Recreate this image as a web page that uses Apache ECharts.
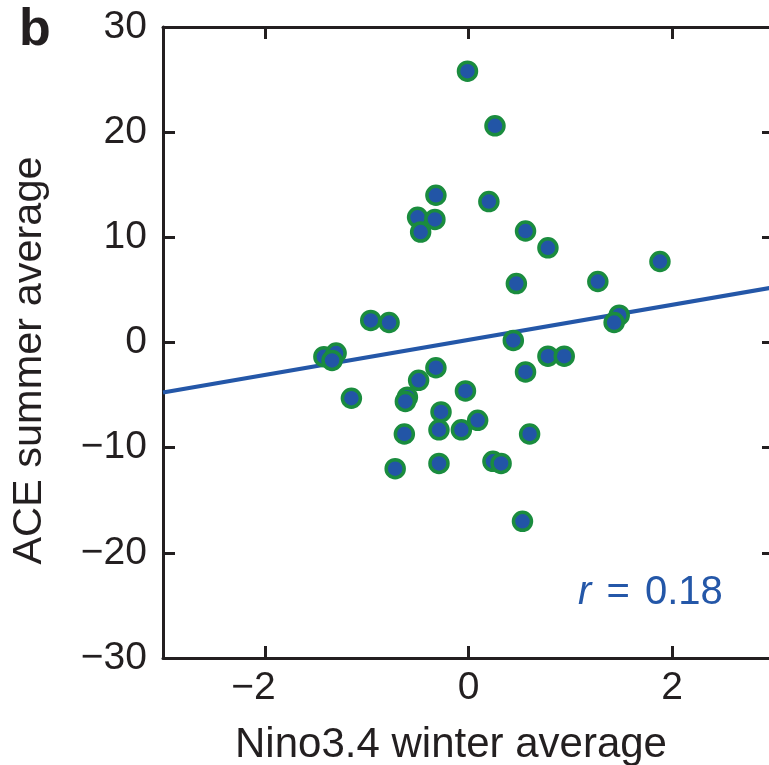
<!DOCTYPE html>
<html><head><meta charset="utf-8">
<script src="https://cdn.jsdelivr.net/npm/echarts@6/dist/echarts.min.js"></script>
<style>html,body{margin:0;padding:0;background:#fff}#c{width:769px;height:765px}</style>
</head><body><div id="c"></div>
<script>
// Nino3.4 winter average (x) and ACE summer average (y)
const ninoWinter = [-0.01, 0.26, -0.32, 0.20, -0.50, -0.33, -0.47, 0.56, 0.78, 1.88,
  1.27, 0.47, -0.96, -0.78, 1.48, 1.43, 0.44, -1.42, -1.30, -1.34,
  0.78, 0.94, -0.32, 0.56, -0.49, -1.15, -0.60, -0.62, -0.03, -0.27,
  0.09, -0.07, -0.29, -0.63, 0.60, 0.24, 0.32, -0.29, -0.72, 0.53];
const aceSummer = [25.8, 20.6, 14.0, 13.4, 11.9, 11.7, 10.5, 10.6, 9.0, 7.7,
  5.8, 5.6, 2.1, 1.9, 2.6, 1.9, 0.2, -1.35, -1.0, -1.7,
  -1.3, -1.3, -2.4, -2.8, -3.6, -5.3, -5.2, -5.6, -4.6, -6.6,
  -7.4, -8.3, -8.3, -8.7, -8.7, -11.3, -11.5, -11.5, -12.0, -17.0];
// regression line end points
const fitX = [-3, 3];
const fitY = [-4.75, 5.25];
// ticks
const xTicks = [-2, 0, 2];
const yTicks = [-30, -20, -10, 0, 10, 20, 30];
const xName = 'Nino3.4 winter average';
const yName = 'ACE summer average';
const panelLabel = 'b';
const rText = '0.18';

const ink = '#231f20';
const blue = '#2457a8';
const font = '"Liberation Sans", Arial, Helvetica, sans-serif';
const minus = v => String(v).replace('-', '\u2212');
// x labels: keep the digit centred on the tick, the minus hangs to the left
const xFmt = v => v < 0 ? minus(v) + '{h|\u2212}' : String(v);

const chart = echarts.init(document.getElementById('c'), null, {renderer: 'canvas'});
const axisLine = {show: true, onZero: false, lineStyle: {color: ink, width: 3}};
const tick = (vals) => ({show: true, inside: true, length: 12, lineStyle: {color: ink, width: 3}, customValues: vals});
const lab = {color: ink, fontSize: 39, fontFamily: font};

chart.setOption({
  animation: false,
  backgroundColor: '#fff',
  grid: {left: 163, top: 27, width: 611, height: 631, containLabel: false, outerBoundsMode: 'none'},
  xAxis: [{
    type: 'value', min: -3, max: 3, position: 'bottom',
    axisLine, axisTick: tick(xTicks), splitLine: {show: false},
    axisLabel: Object.assign({margin: 11, formatter: xFmt, customValues: xTicks,
      rich: {h: {color: 'rgba(0,0,0,0)', fontSize: 39, fontFamily: font}}}, lab),
    name: xName, nameLocation: 'middle', nameGap: 66,
    nameTextStyle: {color: ink, fontSize: 42, fontFamily: font, padding: [0, 35, 0, 0]}
  }, {
    type: 'value', min: -3, max: 3, position: 'top',
    axisLine, axisTick: tick(xTicks), splitLine: {show: false}, axisLabel: {show: false}
  }],
  yAxis: [{
    type: 'value', min: -30, max: 30, interval: 10, position: 'left',
    axisLine, axisTick: tick(yTicks), splitLine: {show: false},
    axisLabel: Object.assign({margin: 16, formatter: minus, customValues: yTicks}, lab),
    name: yName, nameLocation: 'middle', nameGap: 112,
    nameTextStyle: {color: ink, fontSize: 41.5, fontFamily: font, padding: [0, 36, 0, 0]}
  }, {
    type: 'value', min: -30, max: 30, interval: 10, position: 'right',
    axisLine, axisTick: tick(yTicks), splitLine: {show: false}, axisLabel: {show: false}
  }],
  graphic: [{
    type: 'text', left: 19, top: 5,
    style: {text: panelLabel, fill: ink, font: 'bold 52px ' + font}
  }, {
    type: 'text', x: 578, y: 593,
    style: {
      text: '{i|r} {e|=} ' + rText, fill: blue, fontSize: 40, fontFamily: font, verticalAlign: 'middle',
      rich: {
        i: {fontStyle: 'italic', fontSize: 40, fontFamily: font, fill: blue},
        e: {fontSize: 40, fontFamily: font, fill: blue, padding: [0, 4, 0, 4]}
      }
    }
  }],
  series: [{
    type: 'line', xAxisIndex: 0, yAxisIndex: 0, z: 2,
    data: fitX.map((x, i) => [x, fitY[i]]),
    symbol: 'none', lineStyle: {color: blue, width: 4}, silent: true
  }, {
    type: 'scatter', xAxisIndex: 0, yAxisIndex: 0, z: 3,
    data: ninoWinter.map((x, i) => [x, aceSummer[i]]),
    symbol: 'circle', symbolSize: 18,
    itemStyle: {color: '#2255a6', borderColor: '#1a8c3e', borderWidth: 3.5, opacity: 1}
  }]
});
</script>
</body></html>
